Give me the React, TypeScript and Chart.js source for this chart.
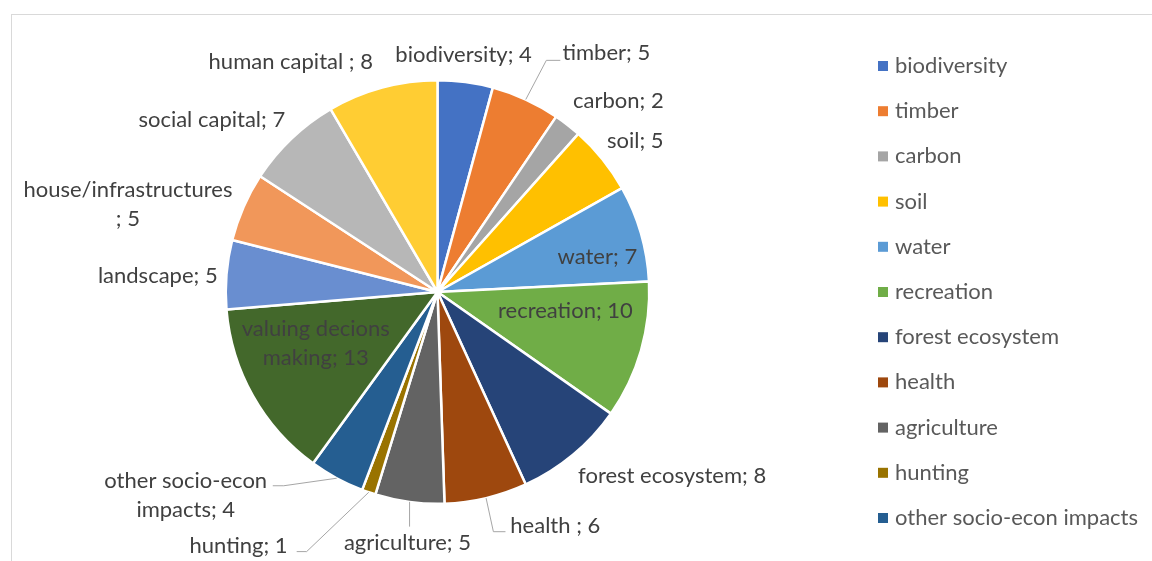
import React, { useEffect, useRef } from "react";
import { Chart, registerables } from "chart.js";

Chart.register(...registerables);

// ---------- data ----------
const categories: string[] = [
  "biodiversity",
  "timber",
  "carbon",
  "soil",
  "water",
  "recreation",
  "forest ecosystem",
  "health",
  "agriculture",
  "hunting",
  "other socio-econ impacts",
  "valuing decions making",
  "landscape",
  "house/infrastructures",
  "social capital",
  "human capital",
];

const values: number[] = [4, 5, 2, 5, 7, 10, 8, 6, 5, 1, 4, 13, 5, 5, 7, 8];

// data label text templates ({v} = value, \n = line break)
const labelTemplates: string[] = [
  "biodiversity; {v}",
  "timber; {v}",
  "carbon; {v}",
  "soil; {v}",
  "water; {v}",
  "recreation; {v}",
  "forest ecosystem; {v}",
  "health ; {v}",
  "agriculture; {v}",
  "hunting; {v}",
  "other socio-econ\nimpacts; {v}",
  "valuing decions\nmaking; {v}",
  "landscape; {v}",
  "house/infrastructures\n; {v}",
  "social capital; {v}",
  "human capital ; {v}",
];

const colors: string[] = [
  "#4472C4",
  "#ED7D31",
  "#A5A5A5",
  "#FFC000",
  "#5B9BD5",
  "#70AD47",
  "#264478",
  "#9E480E",
  "#636363",
  "#997300",
  "#255E91",
  "#43682B",
  "#698ED0",
  "#F1975A",
  "#B7B7B7",
  "#FFCD33",
];

// ---------- label layout (in units of the pie radius, relative to its centre) ----------
type LabelSpec = {
  fx: number;
  fy: number;
  align: CanvasTextAlign;
  leader?: [number, number][];
};

const labelLayout: LabelSpec[] = [
  { fx: 0.123, fy: -1.118, align: "center" },
  { fx: 0.59, fy: -1.127, align: "left", leader: [[0.514, -1.094], [0.58, -1.094]] },
  { fx: 0.854, fy: -0.901, align: "center" },
  { fx: 0.934, fy: -0.712, align: "center" },
  { fx: 0.755, fy: -0.165, align: "center" },
  { fx: 0.604, fy: 0.09, align: "center" },
  { fx: 1.108, fy: 0.868, align: "center" },
  { fx: 0.344, fy: 1.104, align: "left", leader: [[0.264, 1.132], [0.321, 1.132]] },
  { fx: -0.142, fy: 1.184, align: "center", leader: [[-0.132, 1.108]] },
  { fx: -0.708, fy: 1.198, align: "right", leader: [[-0.618, 1.226], [-0.665, 1.226]] },
  { fx: -1.189, fy: 0.96, align: "center", leader: [[-0.726, 0.915], [-0.778, 0.915]] },
  { fx: -0.575, fy: 0.245, align: "center" },
  { fx: -1.321, fy: -0.075, align: "center" },
  { fx: -1.462, fy: -0.413, align: "center" },
  { fx: -1.066, fy: -0.811, align: "center" },
  { fx: -0.693, fy: -1.085, align: "center" },
];

const FONT = "Lato, 'Open Sans', sans-serif";
const FONT_SIZE = 22;
const LINE_H = 29;

const framePlugin = {
  id: "frame",
  beforeDraw(chart: any) {
    const ctx = chart.ctx as CanvasRenderingContext2D;
    ctx.save();
    ctx.fillStyle = "#ffffff";
    ctx.fillRect(0, 0, chart.width, chart.height);
    ctx.strokeStyle = "#d9d9d9";
    ctx.lineWidth = 1;
    ctx.strokeRect(11.5, 14.5, chart.width + 50, chart.height + 50);
    ctx.restore();
  },
};

const sliceLabelPlugin = {
  id: "sliceLabels",
  afterDatasetsDraw(chart: any) {
    const ctx = chart.ctx as CanvasRenderingContext2D;
    const meta = chart.getDatasetMeta(0);
    ctx.save();
    ctx.font = `${FONT_SIZE}px ${FONT}`;
    meta.data.forEach((arc: any, i: number) => {
      const { x, y, outerRadius, startAngle, endAngle } = arc.getProps(
        ["x", "y", "outerRadius", "startAngle", "endAngle"],
        true
      );
      const spec = labelLayout[i];
      const mid = (startAngle + endAngle) / 2;
      if (spec.leader) {
        ctx.strokeStyle = "#a6a6a6";
        ctx.lineWidth = 1;
        ctx.beginPath();
        ctx.moveTo(x + Math.cos(mid) * outerRadius, y + Math.sin(mid) * outerRadius);
        spec.leader.forEach(([fx, fy]) => ctx.lineTo(x + fx * outerRadius, y + fy * outerRadius));
        ctx.stroke();
      }
      const text = labelTemplates[i].replace("{v}", String(values[i]));
      const lines = text.split("\n");
      const tx = x + spec.fx * outerRadius;
      const ty = y + spec.fy * outerRadius;
      ctx.textAlign = spec.align;
      ctx.textBaseline = "middle";
      ctx.fillStyle = "#404040";
      lines.forEach((ln, k) => {
        ctx.fillText(ln, tx, ty + (k - (lines.length - 1) / 2) * LINE_H);
      });
    });
    ctx.restore();
  },
};

const legendPlugin = {
  id: "sideLegend",
  afterDraw(chart: any) {
    const ctx = chart.ctx as CanvasRenderingContext2D;
    ctx.save();
    ctx.font = `${FONT_SIZE}px ${FONT}`;
    ctx.textBaseline = "middle";
    ctx.textAlign = "left";
    const x0 = 878;
    const y0 = 66;
    const step = 45.2;
    categories.forEach((c, i) => {
      const yy = y0 + i * step;
      if (yy + 20 > chart.height) return; // entries that do not fit are dropped
      ctx.fillStyle = colors[i];
      ctx.fillRect(x0, yy - 5, 10, 10);
      ctx.fillStyle = "#595959";
      ctx.fillText(c, x0 + 17, yy);
    });
    ctx.restore();
  },
};

export default function App() {
  const canvasRef = useRef<HTMLCanvasElement | null>(null);

  useEffect(() => {
    if (!canvasRef.current) return;
    const chart = new Chart(canvasRef.current, {
      type: "pie",
      data: {
        labels: categories,
        datasets: [
          {
            data: values,
            backgroundColor: colors,
            borderColor: "#ffffff",
            borderWidth: 2.5,
          },
        ],
      },
      options: {
        responsive: false,
        animation: false,
        layout: { padding: { left: 224, right: 501, top: 79, bottom: 56 } },
        plugins: {
          legend: { display: false },
          tooltip: { enabled: false },
        },
      },
      plugins: [framePlugin, sliceLabelPlugin, legendPlugin],
    });
    return () => chart.destroy();
  }, []);

  return (
    <div style={{ position: "absolute", left: 0, top: 0, width: 1152, height: 561 }}>
      <canvas ref={canvasRef} width={1152} height={561} style={{ display: "block" }} />
    </div>
  );
}
